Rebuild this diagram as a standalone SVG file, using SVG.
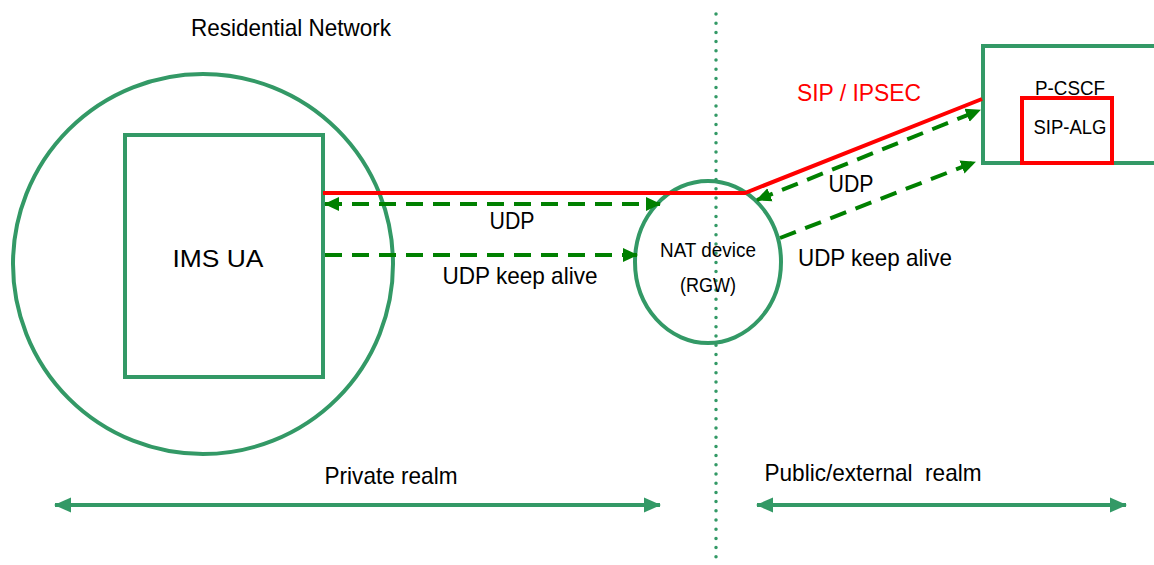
<svg xmlns="http://www.w3.org/2000/svg" width="1154" height="565" viewBox="0 0 1154 565">
<style>
.g{fill:none;stroke:#339966;stroke-width:4}
.r{fill:none;stroke:#ff0000;stroke-width:4}
.d{fill:none;stroke:#008000;stroke-width:4;stroke-dasharray:17 10}
.s{fill:none;stroke:#339966;stroke-width:4}
text{font-family:"Liberation Sans Narrow","Liberation Sans",Arial,sans-serif;fill:#000;text-anchor:middle}
.t{font-size:24px}
.m{font-size:20px}
</style>
<defs>
<marker id="ad" markerUnits="userSpaceOnUse" markerWidth="16" markerHeight="16" refX="14" refY="8" orient="auto-start-reverse" viewBox="0 0 16 16"><path d="M0,1 L15,8 L0,15 Z" fill="#008000"/></marker>
<marker id="as" markerUnits="userSpaceOnUse" markerWidth="18" markerHeight="18" refX="16" refY="9" orient="auto-start-reverse" viewBox="0 0 18 18"><path d="M0,1.5 L17,9 L0,16.5 Z" fill="#339966"/></marker>
</defs>
<g id="residential-network">
<circle cx="203" cy="264" r="190" class="g"/>
<text x="291" y="36" class="t" textLength="200" lengthAdjust="spacingAndGlyphs">Residential Network</text>
</g>
<g id="ims-ua">
<rect x="125" y="135" width="198" height="242" class="g"/>
<text x="218" y="267" class="t" textLength="91" lengthAdjust="spacingAndGlyphs">IMS UA</text>
</g>
<g id="boundary">
<line x1="716" y1="14" x2="716" y2="565" stroke="#339966" stroke-width="3.5" stroke-linecap="round" stroke-dasharray="0 9.2"/>
</g>
<g id="nat-device">
<ellipse cx="708" cy="262" rx="73" ry="81" class="g"/>
<text x="708" y="257" class="m" textLength="96" lengthAdjust="spacingAndGlyphs">NAT device</text>
<text x="708" y="292" class="m" textLength="56" lengthAdjust="spacingAndGlyphs">(RGW)</text>
</g>
<g id="p-cscf">
<rect x="983" y="46" width="190" height="117" class="g"/>
<text x="1070" y="95" class="m" textLength="70" lengthAdjust="spacingAndGlyphs">P-CSCF</text>
</g>
<g id="sip-alg">
<rect x="1022" y="98" width="90" height="65" class="r" stroke-width="4.5"/>
<text x="1070" y="134" class="m" textLength="73" lengthAdjust="spacingAndGlyphs">SIP-ALG</text>
</g>
<g id="connectors">
<polyline points="323,193 745,193 982,99" class="r"/>
<line x1="325" y1="204" x2="660" y2="204" class="d" marker-start="url(#ad)" marker-end="url(#ad)"/>
<line x1="325" y1="255" x2="637" y2="255" class="d" marker-end="url(#ad)"/>
<line x1="757" y1="200" x2="980" y2="110" class="d" marker-start="url(#ad)" marker-end="url(#ad)"/>
<line x1="780" y1="238" x2="975" y2="162" class="d" marker-end="url(#ad)"/>
<line x1="55" y1="505" x2="660" y2="505" class="s" marker-start="url(#as)" marker-end="url(#as)"/>
<line x1="757" y1="505" x2="1126" y2="505" class="s" marker-start="url(#as)" marker-end="url(#as)"/>
</g>
<g id="labels">
<text x="859" y="101" class="t" style="fill:#ff0000" textLength="124" lengthAdjust="spacingAndGlyphs">SIP / IPSEC</text>
<text x="512" y="229" class="t" textLength="45" lengthAdjust="spacingAndGlyphs">UDP</text>
<text x="520" y="284" class="t" textLength="155" lengthAdjust="spacingAndGlyphs">UDP keep alive</text>
<text x="851" y="192" class="t" textLength="45" lengthAdjust="spacingAndGlyphs">UDP</text>
<text x="875" y="266" class="t" textLength="154" lengthAdjust="spacingAndGlyphs">UDP keep alive</text>
<text x="391" y="484" class="t" textLength="133" lengthAdjust="spacingAndGlyphs">Private realm</text>
<text x="873" y="481" class="t" textLength="217" lengthAdjust="spacingAndGlyphs" xml:space="preserve">Public/external  realm</text>
</g>
</svg>
